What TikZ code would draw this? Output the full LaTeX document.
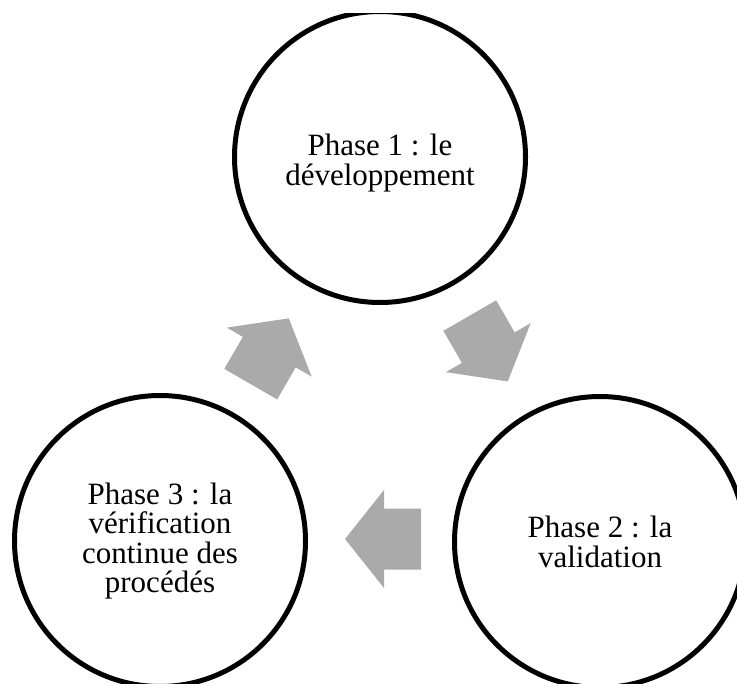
\documentclass[tikz,border=0pt]{standalone}
\usepackage{fontspec}
\setmainfont{Liberation Serif}
\definecolor{arrowgray}{RGB}{170,170,170}
\begin{document}
\begin{tikzpicture}[x=0.75pt,y=0.75pt,
  phase/.style={circle, draw=black, line width=3.75pt, minimum size=218.25pt, inner sep=0pt},
  phasetext/.style={align=center, font=\fontsize{23.25pt}{22pt}\selectfont, inner sep=0pt},
  blockarrow/.style={fill=arrowgray}]
\useasboundingbox (0,0) rectangle (737,683);
\begin{scope}
  \clip (0,0) rectangle (737,669);
  \node[phase] (c1) at (380,526) {};
  \node[phase] (c2) at (600,141) {};
  \node[phase] (c3) at (160,142) {};
\end{scope}
\node[phasetext] (t1) at (380,520) {Phase 1 : le\\développement};
\node[phasetext] (t2) at (600,141) {Phase 2 : la\\validation};
\node[phasetext] (t3) at (160,142) {Phase 3 : la\\vérification\\continue des\\procédés};
% block arrows
\begin{scope}[shift={(269.75,331.75)}, rotate=60]
  \fill[blockarrow] (-38,-30.5) -- (-1,-30.5) -- (-1,-49) -- (38,0) -- (-1,49) -- (-1,30.5) -- (-38,30.5) -- cycle;
\end{scope}
\begin{scope}[shift={(488.75,334.5)}, rotate=-60]
  \fill[blockarrow] (-38,-30.5) -- (-1,-30.5) -- (-1,-49) -- (38,0) -- (-1,49) -- (-1,30.5) -- (-38,30.5) -- cycle;
\end{scope}
\begin{scope}[shift={(383,144)}, rotate=180]
  \fill[blockarrow] (-38,-30.5) -- (-1,-30.5) -- (-1,-49) -- (38,0) -- (-1,49) -- (-1,30.5) -- (-38,30.5) -- cycle;
\end{scope}
\end{tikzpicture}
\end{document}
